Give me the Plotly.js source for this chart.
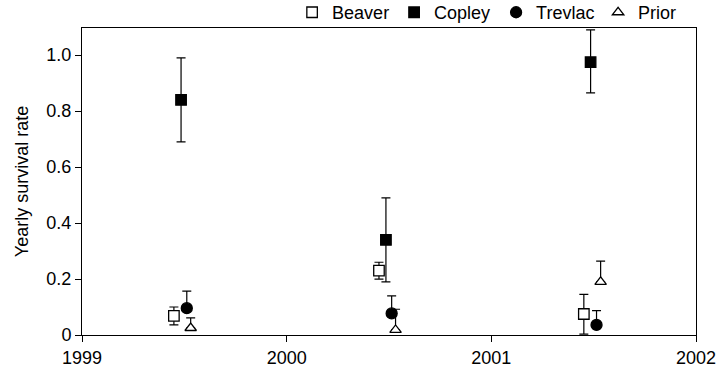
<!DOCTYPE html>
<html>
<head>
<meta charset="utf-8">
<script src="https://cdn.plot.ly/plotly-3.0.1.min.js"></script>
<style>html,body{margin:0;padding:0;background:#fff;}#chart{width:721px;height:369px;}</style>
</head>
<body>
<div id="chart"></div>
<script>
// Data
var seriesNames = ["Beaver", "Copley", "Trevlac", "Prior"];
var beaverX = [1999.449, 2000.451, 2001.452];
var beaverY = [0.068, 0.23, 0.075];
var beaverHi = [0.100, 0.26, 0.145];
var beaverLo = [0.036, 0.20, 0.003];

var copleyX = [1999.484, 2000.485, 2001.485];
var copleyY = [0.840, 0.34, 0.975];
var copleyHi = [0.990, 0.49, 1.090];
var copleyLo = [0.690, 0.19, 0.865];

var trevlacX = [1999.512, 2000.513, 2001.514];
var trevlacY = [0.096, 0.077, 0.036];
var trevlacHi = [0.157, 0.140, 0.087];
var trevlacLo = [0.096, 0.077, 0.036];

var priorX = [1999.531, 2000.532, 2001.534];
var priorY = [0.025, 0.018, 0.190];
var priorHi = [0.061, 0.092, 0.264];
var priorLo = [0.025, 0.018, 0.190];

var xTickVals = [1999, 2000, 2001, 2002];
var xTickText = ["1999", "2000", "2001", "2002"];
var yTickVals = [0, 0.2, 0.4, 0.6, 0.8, 1.0];
var yTickText = ["0", "0.2", "0.4", "0.6", "0.8", "1.0"];

function diff(a, b) { return a.map(function (v, i) { return Math.max(0, v - b[i]); }); }

function makeTrace(name, x, y, hi, lo, symbol, fill, size) {
  return {
    type: "scatter", mode: "markers", name: name, x: x, y: y,
    marker: { symbol: symbol, size: size, color: fill, line: { color: "#000", width: 1.3 } },
    error_y: { type: "data", symmetric: false, array: diff(hi, y), arrayminus: diff(y, lo),
               color: "#000", thickness: 1.2, width: 4.5 },
    cliponaxis: false
  };
}

var traces = [
  makeTrace(seriesNames[0], beaverX, beaverY, beaverHi, beaverLo, "square", "#fff", 10.5),
  makeTrace(seriesNames[1], copleyX, copleyY, copleyHi, copleyLo, "square", "#000", 10.5),
  makeTrace(seriesNames[2], trevlacX, trevlacY, trevlacHi, trevlacLo, "circle", "#000", 11),
  makeTrace(seriesNames[3], priorX, priorY, priorHi, priorLo, "triangle-up", "#fff", 10)
];

var font = { family: "Liberation Sans, Arial, Helvetica, sans-serif", size: 18, color: "#000" };

var layout = {
  width: 721, height: 369,
  margin: { l: 82, r: 25, t: 28, b: 34, pad: 0, autoexpand: false },
  paper_bgcolor: "#fff", plot_bgcolor: "#fff",
  font: font,
  showlegend: true,
  legend: {
    orientation: "h", xref: "container", x: 0.971, xanchor: "right", y: 0.99, yanchor: "bottom",
    font: font, bgcolor: "rgba(0,0,0,0)", itemwidth: 30, tracegroupgap: 0,
    entrywidth: 57, entrywidthmode: "pixels"
  },
  xaxis: {
    range: [1999, 2002], tickvals: xTickVals, ticktext: xTickText,
    ticks: "outside", ticklen: 6, tickwidth: 1, tickcolor: "#000",
    showline: true, linecolor: "#000", linewidth: 1, mirror: true,
    showgrid: false, zeroline: false, tickfont: font, ticklabeloverflow: "allow"
  },
  yaxis: {
    range: [0, 1.097], tickvals: yTickVals, ticktext: yTickText,
    ticks: "outside", ticklen: 6, tickwidth: 1, tickcolor: "#000",
    showline: true, linecolor: "#000", linewidth: 1, mirror: true,
    showgrid: false, zeroline: false, tickfont: font,
    title: { text: "Yearly survival rate", font: font, standoff: 13 }
  }
};

Plotly.newPlot("chart", traces, layout, { displayModeBar: false, staticPlot: true });
</script>
</body>
</html>
